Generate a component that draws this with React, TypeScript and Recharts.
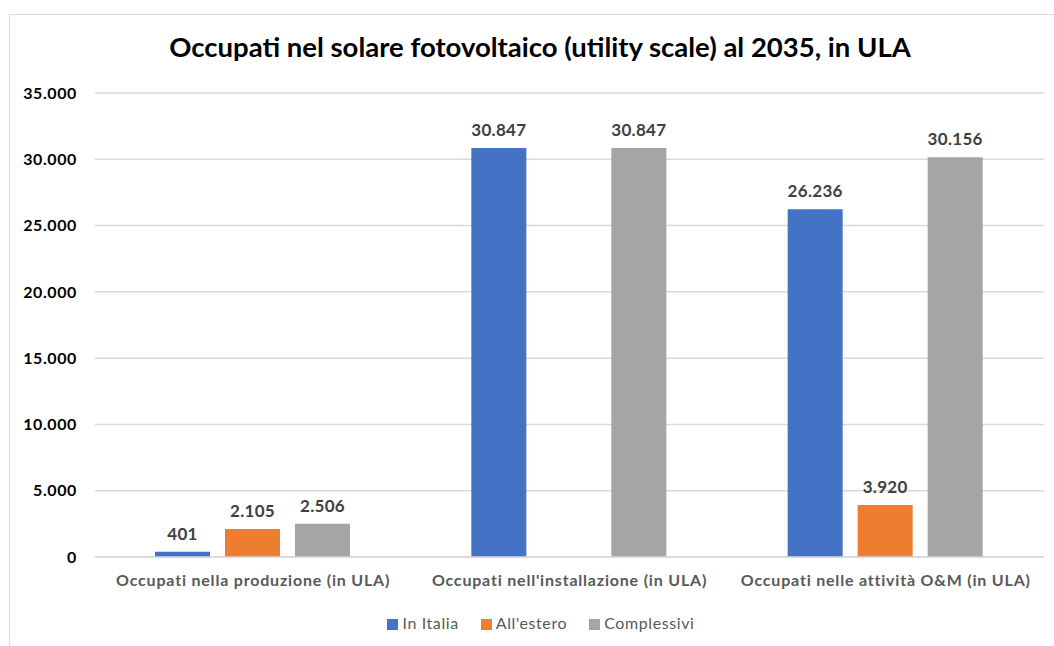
import React from "react";
import {
  BarChart,
  Bar,
  XAxis,
  YAxis,
  CartesianGrid,
  Legend,
  LabelList,
} from "recharts";

const categories = [
  "Occupati nella produzione (in ULA)",
  "Occupati nell'installazione (in ULA)",
  "Occupati nelle attività O&M (in ULA)",
];
const inItalia = [401, 30847, 26236];
const allEstero: (number | null)[] = [2105, null, 3920];
const complessivi = [2506, 30847, 30156];
const yTicks = [0, 5000, 10000, 15000, 20000, 25000, 30000, 35000];

const data = categories.map((name, i) => ({
  name,
  inItalia: inItalia[i],
  allEstero: allEstero[i],
  complessivi: complessivi[i],
}));

const FONT = "Lato, 'Open Sans', sans-serif";

const fmt = (v: any) => {
  if (v === null || v === undefined || v === "") return "";
  return String(Math.round(Number(v))).replace(/\B(?=(\d{3})+(?!\d))/g, ".");
};

const labelStyle = {
  fontSize: 17,
  fontWeight: 700,
  fill: "#404040",
  fontFamily: FONT,
  letterSpacing: 0.3,
};

export default function App() {
  return (
    <div
      style={{
        position: "absolute",
        left: 0,
        top: 0,
        width: 1054,
        height: 646,
        background: "#fff",
        overflow: "hidden",
        fontFamily: FONT,
      }}
    >
      <div
        style={{
          position: "absolute",
          left: 9,
          top: 14,
          width: 1080,
          height: 700,
          border: "1px solid #D9D9D9",
        }}
      />
      <div
        style={{
          position: "absolute",
          left: 0,
          width: 1080,
          top: 30,
          textAlign: "center",
          fontSize: 27.5,
          fontWeight: 700,
          color: "#000",
        }}
      >
        Occupati nel solare fotovoltaico (utility scale) al 2035, in ULA
      </div>
      <BarChart
        width={1054}
        height={646}
        data={data}
        margin={{ top: 93, right: 10, bottom: 14, left: 0 }}
        barGap={15}
        barCategoryGap={60}
        style={{ position: "absolute", left: 0, top: 0 }}
      >
        <CartesianGrid vertical={false} stroke="#D9D9D9" strokeWidth={1.5} />
        <XAxis
          dataKey="name"
          height={56}
          tickLine={false}
          axisLine={{ stroke: "#D9D9D9", strokeWidth: 1.5 }}
          tickMargin={12}
          interval={0}
          tick={{
            fontSize: 16,
            fontWeight: 700,
            fill: "#595959",
            fontFamily: FONT,
            letterSpacing: 0.8,
          }}
        />
        <YAxis
          width={95}
          domain={[0, 35000]}
          ticks={yTicks}
          tickFormatter={fmt}
          tickLine={false}
          axisLine={false}
          tickMargin={12}
          tick={{
            fontSize: 16,
            fontWeight: 700,
            fill: "#000",
            fontFamily: FONT,
            letterSpacing: 0.6,
          }}
        />
        <Legend
          verticalAlign="bottom"
          align="center"
          iconType="square"
          iconSize={11}
          itemSorter={null}
          wrapperStyle={{ left: 30, fontSize: 16, fontFamily: FONT, letterSpacing: 0.6 }}
          formatter={(value: string) => (
            <span style={{ color: "#595959", marginRight: 12 }}>{value}</span>
          )}
        />
        <Bar dataKey="inItalia" name="In Italia" fill="#4472C4" isAnimationActive={false}>
          <LabelList dataKey="inItalia" position="top" offset={12} formatter={fmt} style={labelStyle} />
        </Bar>
        <Bar dataKey="allEstero" name="All'estero" fill="#ED7D31" isAnimationActive={false}>
          <LabelList dataKey="allEstero" position="top" offset={12} formatter={fmt} style={labelStyle} />
        </Bar>
        <Bar dataKey="complessivi" name="Complessivi" fill="#A5A5A5" isAnimationActive={false}>
          <LabelList dataKey="complessivi" position="top" offset={12} formatter={fmt} style={labelStyle} />
        </Bar>
      </BarChart>
    </div>
  );
}
